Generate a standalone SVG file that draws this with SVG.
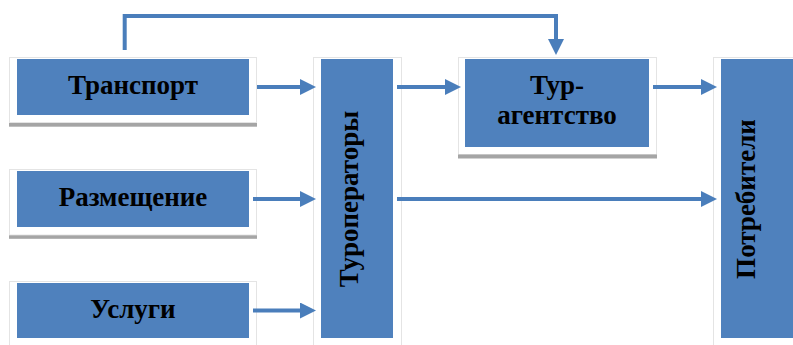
<svg xmlns="http://www.w3.org/2000/svg" width="793" height="345" viewBox="0 0 793 345">
<style>
.frame{fill:#ffffff;stroke:#e4e4e4;stroke-width:1}
.shadow{fill:#a5a5a5}
.box{fill:#4f81bd}
.lbl{font-family:"Liberation Serif","Times New Roman",serif;font-weight:bold;font-size:27px;fill:#000000;text-anchor:middle}
.conn{fill:none;stroke:#4a7ebb;stroke-width:4}
</style>
<defs>
<marker id="ah" viewBox="0 0 16 16" markerWidth="16" markerHeight="16" refX="4" refY="8" markerUnits="userSpaceOnUse" orient="auto">
<path d="M0,0 L16,8 L0,16 z" fill="#4a7ebb"/>
</marker>
</defs>
<rect width="793" height="345" fill="#ffffff"/>
<g id="transport">
<rect class="frame" x="9.5" y="57.5" width="247" height="65"/>
<rect class="shadow" x="9" y="123" width="248" height="3.7"/>
<rect class="box" x="17" y="59" width="232" height="56"/>
<text class="lbl" x="133" y="94">Транспорт</text>
</g>
<g id="razmeshchenie">
<rect class="frame" x="9.5" y="169.5" width="247" height="65.5"/>
<rect class="shadow" x="9" y="235.3" width="248" height="3.5"/>
<rect class="box" x="17" y="171" width="232" height="56"/>
<text class="lbl" x="133" y="206">Размещение</text>
</g>
<g id="uslugi">
<rect class="frame" x="9.5" y="281.5" width="247" height="70"/>
<rect class="box" x="17" y="283" width="232" height="55"/>
<text class="lbl" x="133" y="318">Услуги</text>
</g>
<g id="turoperatory">
<rect class="frame" x="313.5" y="57.5" width="88" height="295"/>
<rect class="box" x="321" y="59" width="72" height="279"/>
<text class="lbl" transform="translate(358,199) rotate(-90)" x="0" y="0">Туроператоры</text>
</g>
<g id="turagentstvo">
<rect class="frame" x="458.5" y="57.5" width="198" height="97"/>
<rect class="shadow" x="458" y="154.5" width="199" height="4"/>
<rect class="box" x="465" y="59" width="184" height="88"/>
<text class="lbl" x="557" y="94">Тур-</text>
<text class="lbl" x="557" y="124">агентство</text>
</g>
<g id="potrebiteli">
<rect class="frame" x="713.5" y="57.5" width="90" height="295"/>
<rect class="box" x="721" y="59" width="80" height="279"/>
<text class="lbl" transform="translate(755,199) rotate(-90)" x="0" y="0">Потребители</text>
</g>
<g id="connectors">
<path class="conn" marker-end="url(#ah)" d="M257,87 H304"/>
<path class="conn" marker-end="url(#ah)" d="M253,199 H304"/>
<path class="conn" marker-end="url(#ah)" d="M253,310.5 H304"/>
<path class="conn" marker-end="url(#ah)" d="M397,87 H449"/>
<path class="conn" marker-end="url(#ah)" d="M397,199 H705"/>
<path class="conn" marker-end="url(#ah)" d="M653,87 H705"/>
<path class="conn" marker-end="url(#ah)" d="M124.7,50 V16 H556 V43"/>
</g>
</svg>
